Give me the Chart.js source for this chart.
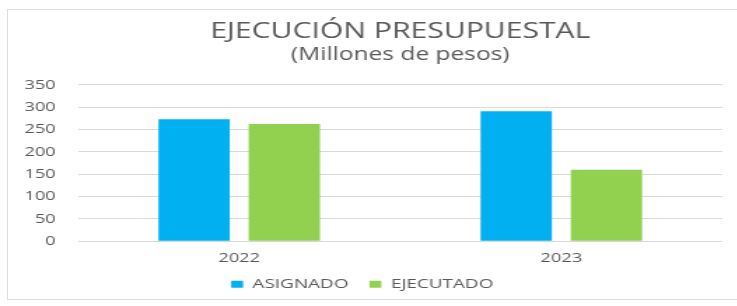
<!DOCTYPE html>
<html>
<head>
<meta charset="utf-8">
<script src="https://cdn.jsdelivr.net/npm/chart.js@4"></script>
<style>
  html, body { margin: 0; padding: 0; background: #fff; }
  #wrap { position: relative; width: 737px; height: 306px; overflow: hidden; }
  #frame { position: absolute; left: 7px; top: 9px; width: 760px; height: 291px; border: 1px solid #dedede; box-sizing: border-box; }
  /* the source image is stretched sideways, so the chart is drawn narrow and widened */
  canvas { position: absolute; left: 0; top: 0; transform: scaleX(1.4); transform-origin: 0 0; }
</style>
</head>
<body>
<div id="wrap">
  <div id="frame"></div>
  <canvas id="myChart" width="527" height="306"></canvas>
</div>
<script>
const years = ['2022', '2023'];
const asignado = [273, 291];
const ejecutado = [262, 160];
const yTicks = [0, 50, 100, 150, 200, 250, 300, 350];

const FONT = "'Open Sans', sans-serif";
const GREY = '#595959';

const ctx = document.getElementById('myChart').getContext('2d');
new Chart(ctx, {
    type: 'bar',
    data: {
        labels: years,
        datasets: [
            { label: 'ASIGNADO', data: asignado, backgroundColor: '#00B0F0' },
            { label: 'EJECUTADO', data: ejecutado, backgroundColor: '#92D050' }
        ]
    },
    options: {
        responsive: false,
        animation: false,
        layout: { padding: { left: 1.5, right: 11, top: 10, bottom: 5 } },
        datasets: { bar: { categoryPercentage: 0.56, barPercentage: 0.79 } },
        scales: {
            x: {
                grid: { display: false, drawTicks: false },
                border: { display: false },
                ticks: { color: GREY, font: { family: FONT, size: 13 }, padding: 9 },
                afterFit: axis => { axis.height -= 12.3; }
            },
            y: {
                min: 0,
                max: 350,
                afterBuildTicks: axis => { axis.ticks = yTicks.map(v => ({ value: v })); },
                grid: { color: '#d9d9d9', drawTicks: false },
                border: { display: false },
                ticks: { color: GREY, font: { family: FONT, size: 13 }, padding: 16, autoSkip: false }
            }
        },
        plugins: {
            title: {
                display: true,
                fullSize: false,
                text: 'EJECUCIÓN PRESUPUESTAL',
                color: GREY,
                font: { family: FONT, size: 21.5, weight: 'normal' },
                padding: { top: 9, bottom: 0 }
            },
            subtitle: {
                display: true,
                fullSize: false,
                text: '(Millones de pesos)',
                color: GREY,
                font: { family: FONT, size: 17.5, weight: 'normal' },
                padding: { top: 0, bottom: 19 }
            },
            legend: {
                position: 'bottom',
                labels: { color: GREY, font: { family: FONT, size: 13.5 }, boxWidth: 8.5, boxHeight: 7, padding: 15 }
            },
            tooltip: { enabled: false }
        }
    }
});
</script>
</body>
</html>
